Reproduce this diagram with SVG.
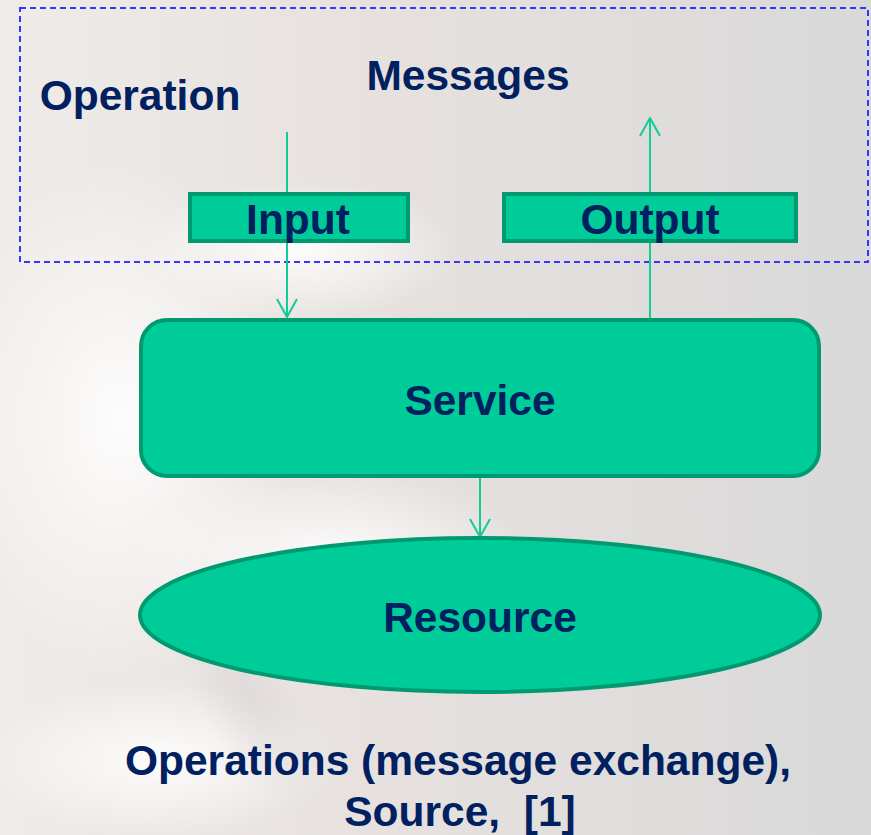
<svg xmlns="http://www.w3.org/2000/svg" width="871" height="835" viewBox="0 0 871 835">
  <defs>
    <linearGradient id="bg" x1="0" y1="0" x2="1" y2="0">
      <stop offset="0" stop-color="#efebe8"/>
      <stop offset="0.45" stop-color="#e6e1df"/>
      <stop offset="1" stop-color="#d9d9d9"/>
    </linearGradient>
    <radialGradient id="glow" cx="0.5" cy="0.5" r="0.5">
      <stop offset="0" stop-color="#ffffff" stop-opacity="0.9"/>
      <stop offset="1" stop-color="#ffffff" stop-opacity="0"/>
    </radialGradient>
    <radialGradient id="shade" cx="0.5" cy="0.5" r="0.5">
      <stop offset="0" stop-color="#d6d1d1" stop-opacity="0.5"/>
      <stop offset="1" stop-color="#d6d1d1" stop-opacity="0"/>
    </radialGradient>
    <!-- open chevron arrowhead, pointing along +x -->
    <marker id="open" viewBox="0 0 20 22" refX="19" refY="11" markerWidth="20" markerHeight="22" markerUnits="userSpaceOnUse" orient="auto">
      <path d="M1,1 L19,11 L1,21" fill="none" stroke="#11cc99" stroke-width="2"/>
    </marker>
    <style>
      .lbl { font-family: "Liberation Sans", Arial, sans-serif; font-weight: bold; font-size: 42.5px; fill: #002060; text-anchor: middle; }
      .box { fill: #00cc99; stroke: #009970; stroke-width: 4; }
      .wire { fill: none; stroke: #11cc99; stroke-width: 2; }
    </style>
  </defs>

  <!-- soft textured backdrop -->
  <rect width="871" height="835" fill="url(#bg)"/>
  <ellipse cx="120" cy="420" rx="170" ry="260" fill="url(#glow)"/>
  <ellipse cx="330" cy="560" rx="200" ry="90" fill="url(#glow)"/>
  <ellipse cx="160" cy="760" rx="180" ry="80" fill="url(#glow)"/>
  <ellipse cx="300" cy="250" rx="160" ry="70" fill="url(#glow)"/>
  <ellipse cx="250" cy="700" rx="50" ry="120" fill="url(#shade)" transform="rotate(-30 250 700)"/>

  <!-- operation boundary -->
  <rect x="20" y="8" width="848" height="254" fill="none" stroke="#3535ff" stroke-width="2" stroke-dasharray="6 4"/>
  <text class="lbl" x="140" y="110">Operation</text>
  <text class="lbl" x="468" y="90">Messages</text>

  <g id="connectors">
    <line class="wire" x1="287" y1="132" x2="287" y2="317" marker-end="url(#open)"/>
    <line class="wire" x1="650" y1="318" x2="650" y2="118" marker-end="url(#open)"/>
    <line class="wire" x1="480" y1="478" x2="480" y2="537" marker-end="url(#open)"/>
  </g>

  <g id="input">
    <rect class="box" x="190" y="194" width="218" height="47"/>
    <text class="lbl" x="298" y="234">Input</text>
  </g>

  <g id="output">
    <rect class="box" x="504" y="194" width="292" height="47"/>
    <text class="lbl" x="650" y="234">Output</text>
  </g>

  <g id="service">
    <rect class="box" x="141" y="320" width="678" height="156" rx="26" ry="26"/>
    <text class="lbl" x="480" y="415">Service</text>
  </g>

  <g id="resource">
    <ellipse class="box" cx="480" cy="615" rx="340" ry="77"/>
    <text class="lbl" x="480" y="632">Resource</text>
  </g>

  <g id="caption">
    <text class="lbl" x="458" y="775">Operations (message exchange),</text>
    <text class="lbl" x="460" y="826" xml:space="preserve">Source,  [1]</text>
  </g>
</svg>
